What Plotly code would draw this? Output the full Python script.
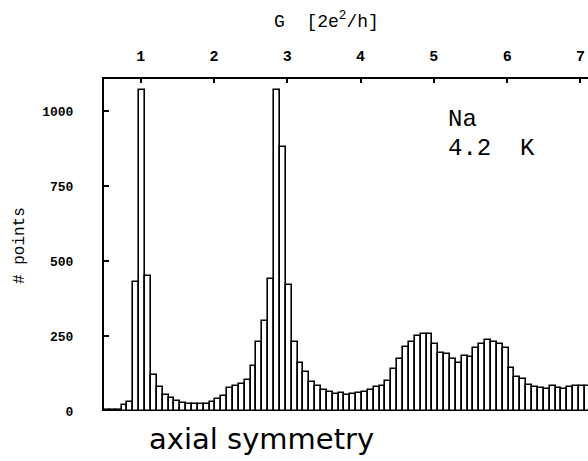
import plotly.graph_objects as go

# Histogram bins: conductance G in units of 2e^2/h, bin width 0.08
bin_start = 0.5
bin_width = 0.08
counts = [
    3, 4, 5, 20, 30, 430, 1070, 450, 120, 80,
    55, 45, 35, 28, 25, 22, 22, 25, 30, 40,
    50, 78, 82, 90, 105, 150, 230, 300, 440, 1070,
    880, 420, 230, 160, 130, 98, 85, 70, 62, 58,
    60, 55, 58, 60, 62, 70, 80, 85, 100, 140,
    175, 215, 230, 250, 258, 258, 225, 195, 190, 175,
    160, 185, 180, 210, 225, 237, 230, 225, 210, 145,
    112, 108, 88, 80, 78, 75, 82, 78, 72, 80,
    85, 82, 85,
]
centers = [bin_start + bin_width * (i + 0.5) for i in range(len(counts))]

x_ticks = [1, 2, 3, 4, 5, 6, 7]
y_ticks = [0, 250, 500, 750, 1000]

mono = "Liberation Mono"

fig = go.Figure()
fig.add_trace(go.Bar(
    x=centers, y=counts, width=bin_width,
    marker=dict(color="white", line=dict(color="black", width=1.6)),
    showlegend=False,
))

fig.update_layout(
    width=588, height=461,
    margin=dict(l=104, r=0, t=79, b=50),
    paper_bgcolor="white", plot_bgcolor="white",
    bargap=0,
    xaxis=dict(
        side="top", range=[0.5, 7.103],
        tickvals=x_ticks, ticktext=[str(v) for v in x_ticks],
        ticks="inside", ticklen=4, tickcolor="black", tickwidth=1.5,
        showline=True, linecolor="black", linewidth=2,
        showgrid=False, zeroline=False,
        tickfont=dict(family=mono, size=15, color="black", weight="bold"),
        ticklabelstandoff=10,
    ),
    yaxis=dict(
        range=[0, 1107],
        tickvals=y_ticks, ticktext=[str(v) for v in y_ticks],
        ticks="inside", ticklen=5, tickcolor="black", tickwidth=1.5,
        showline=True, linecolor="black", linewidth=2,
        showgrid=False, zeroline=False,
        tickfont=dict(family=mono, size=13, color="black", weight="bold"),
        ticklabelstandoff=26,
    ),
    annotations=[
        dict(text="G  [2e<sup>2</sup>/h]", xref="paper", yref="paper",
             x=(326 - 104) / 484, y=(411 - 20) / 332,
             xanchor="center", yanchor="middle", showarrow=False,
             font=dict(family=mono, size=18, color="black")),
        dict(text="# points", xref="paper", yref="paper",
             x=(20 - 104) / 484, y=(411 - 246) / 332, textangle=-90,
             xanchor="center", yanchor="middle", showarrow=False,
             font=dict(family=mono, size=16, color="black")),
        dict(text="Na", xref="paper", yref="paper",
             x=(446 - 104) / 484, y=(411 - 119) / 332,
             xanchor="left", yanchor="middle",
             showarrow=False, font=dict(family=mono, size=24, color="black")),
        dict(text="4.2  K", xref="paper", yref="paper",
             x=(446 - 104) / 484, y=(411 - 148) / 332,
             xanchor="left", yanchor="middle",
             showarrow=False, font=dict(family=mono, size=24, color="black")),
        dict(text="axial symmetry", xref="paper", yref="paper",
             x=(261 - 104) / 484, y=(411 - 439) / 332,
             xanchor="center", yanchor="middle", showarrow=False,
             font=dict(family="DejaVu Sans", size=29, color="black")),
    ],
)

fig.write_html("out.html")
